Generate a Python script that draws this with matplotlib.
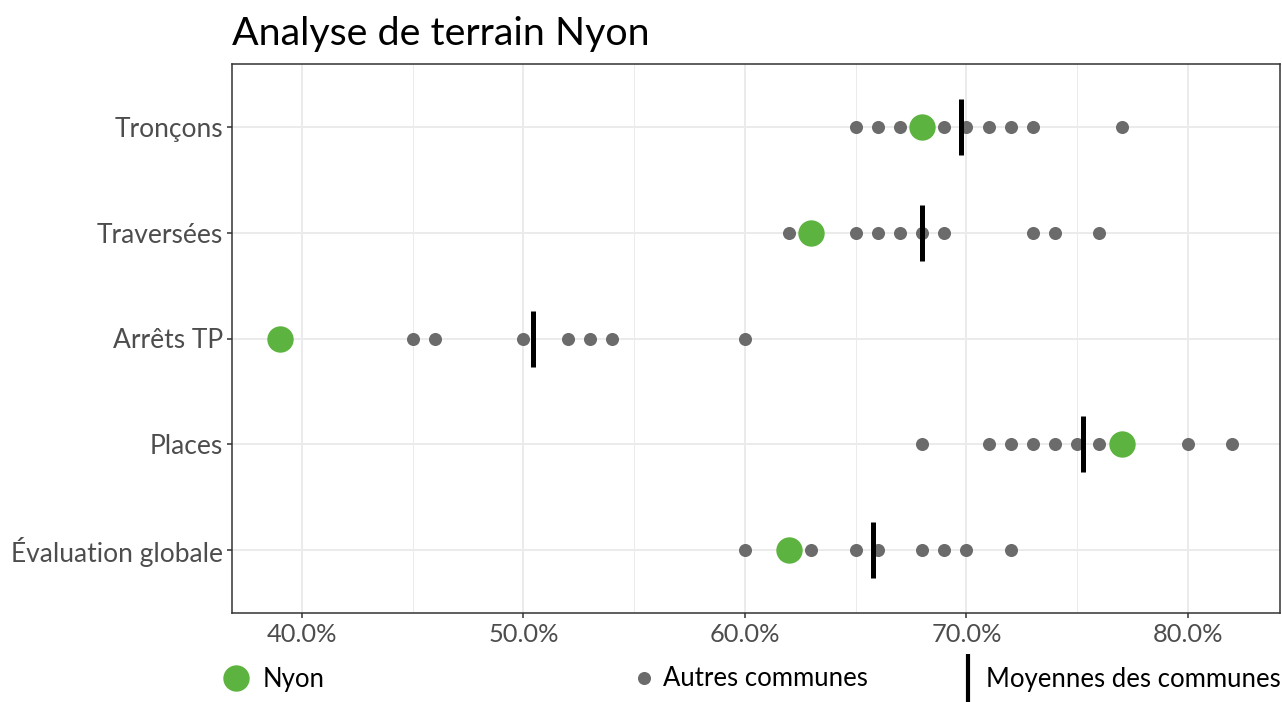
import matplotlib.pyplot as plt
from matplotlib.lines import Line2D
from matplotlib.ticker import FuncFormatter, MultipleLocator

# values (percent)
categories = ["Tronçons", "Traversées", "Arrêts TP", "Places", "Évaluation globale"]
nyon = [68, 63, 39, 77, 62]
autres = [
    [65, 66, 67, 69, 70, 71, 72, 73, 77],
    [62, 65, 66, 67, 68, 69, 73, 74, 76],
    [45, 46, 50, 52, 53, 54, 60],
    [68, 71, 72, 73, 74, 75, 76, 80, 82],
    [60, 63, 65, 66, 68, 69, 70, 72],
]
moyennes = [69.75, 68.0, 50.43, 75.26, 65.8]
x_ticks = [40, 50, 60, 70, 80]

GREEN = "#5db33f"
GREY = "#6b6b6b"
FONT = "Lato"


def main() -> None:
    plt.rcParams["font.family"] = [FONT, "DejaVu Sans"]
    W, H = 1282, 702
    fig = plt.figure(figsize=(W / 100, H / 100), dpi=100)
    ax = fig.add_axes([232 / W, 1 - 613 / H, (1280 - 232) / W, (613 - 64) / H])

    n = len(categories)
    ypos = [n - 1 - i for i in range(n)]

    for y, vals in zip(ypos, autres):
        ax.plot(vals, [y] * len(vals), "o", color=GREY, ms=9.4, mew=0, zorder=3)
    ax.plot(moyennes, ypos, "|", color="black", ms=40, mew=3.6, zorder=4)
    ax.plot(nyon, ypos, "o", color=GREEN, ms=19, mew=0, zorder=5)

    lo = min(min(nyon), min(min(v) for v in autres))
    hi = max(max(nyon), max(max(v) for v in autres))
    pad = (hi - lo) * 0.05
    ax.set_xlim(lo - pad, hi + pad)
    ax.set_ylim(-0.6, n - 0.4)

    ax.set_xticks(x_ticks)
    ax.xaxis.set_minor_locator(MultipleLocator(5))
    ax.xaxis.set_major_formatter(FuncFormatter(lambda v, _: f"{v:.1f}%"))
    ax.set_yticks(ypos)
    ax.set_yticklabels(categories, fontsize=19)

    ax.grid(which="major", color="#ebebeb", lw=1.4, zorder=0)
    ax.grid(which="minor", axis="x", color="#ebebeb", lw=0.7, zorder=0)
    ax.set_axisbelow(True)
    for s in ax.spines.values():
        s.set_color("#333333")
        s.set_linewidth(1.1)
    ax.tick_params(which="major", length=3.5, width=1.1, color="#333333",
                   labelcolor="#4d4d4d", pad=3)
    ax.tick_params(axis="x", labelsize=18.3, pad=4)
    ax.tick_params(which="minor", length=0)

    fig.text(232 / W, 1 - 34 / H, "Analyse de terrain Nyon", fontsize=28.4,
             va="center", ha="left", color="black")

    # legend, three separate keys along the bottom
    handles = [
        (Line2D([], [], ls="", marker="o", color=GREEN, ms=19, mew=0), "Nyon", 224, 0.6),
        (Line2D([], [], ls="", marker="o", color=GREY, ms=9.4, mew=0), "Autres communes", 632, 0.3),
        (Line2D([], [], ls="", marker="|", color="black", ms=34, mew=3), "Moyennes des communes", 956, 0.25),
    ]
    for h, label, x0, tp in handles:
        fig.legend([h], [label], loc="center left",
                   bbox_to_anchor=(x0 / W, 1 - 679 / H), frameon=False,
                   fontsize=18.5, handlelength=0.9, handletextpad=tp,
                   borderpad=0, borderaxespad=0)

    fig.savefig("out.png", dpi=100)
    plt.close(fig)


if __name__ == "__main__":
    main()
